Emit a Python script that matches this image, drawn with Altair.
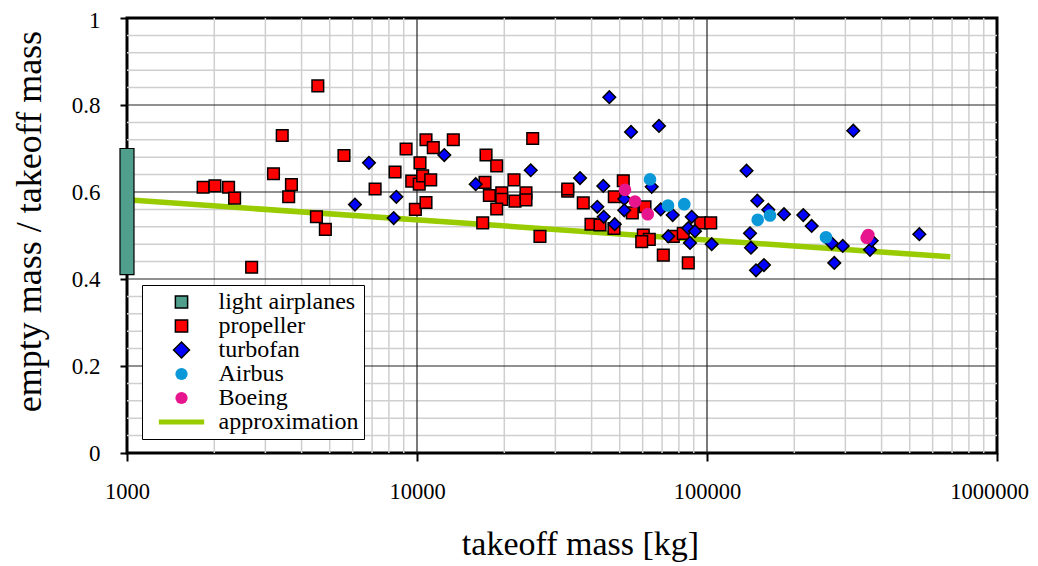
import altair as alt
import pandas as pd

FONT = "Liberation Serif"
AXIS_FONT = "Liberation Serif, Times New Roman, serif"

# ---- data ----
prop_mass = [1830, 2010, 2240, 2350, 2690, 3200, 3430, 3610, 3690, 4550, 4500, 4830,
             5600, 7170, 8400, 9170, 9590, 9870, 10180, 10240, 10460, 11150, 10740,
             10740, 11380, 13340, 17300, 18830, 17160, 17760, 21600, 19600, 19600,
             21770, 23760, 23760, 18830, 16850, 25060, 26550, 33100, 33100, 37440,
             39810, 42760, 47790, 51440, 47900, 55270, 61120, 60300, 63240, 59550,
             70680, 76520, 82830, 86180, 95130, 102990]
prop_ratio = [0.611, 0.614, 0.611, 0.586, 0.427, 0.642, 0.730, 0.589, 0.617, 0.844, 0.543,
              0.514, 0.684, 0.607, 0.646, 0.699, 0.625, 0.560, 0.618, 0.667, 0.637, 0.628,
              0.576, 0.720, 0.702, 0.720, 0.685, 0.660, 0.622, 0.592, 0.628, 0.598, 0.583,
              0.579, 0.598, 0.582, 0.561, 0.529, 0.723, 0.498, 0.602, 0.607, 0.575, 0.526,
              0.524, 0.516, 0.626, 0.589, 0.552, 0.566, 0.501, 0.491, 0.486, 0.455, 0.498,
              0.505, 0.437, 0.529, 0.529]

turbofan_mass = [6110, 6830, 8490, 8310, 12420, 15940, 24670, 46040, 54700, 68310, 36490,
                 43890, 41860, 44040, 48060, 51850, 51850, 64470, 69230, 76150, 88560,
                 86180, 90910, 73540, 87370, 103800, 136850, 149100, 162700, 184300,
                 214800, 229600, 140700, 141800, 147560, 157200, 269200, 293800, 274800,
                 364800, 369700, 319500, 539700]
turbofan_ratio = [0.571, 0.667, 0.589, 0.540, 0.685, 0.618, 0.650, 0.818, 0.738, 0.752,
                  0.632, 0.614, 0.566, 0.543, 0.526, 0.584, 0.558, 0.612, 0.560, 0.547,
                  0.543, 0.517, 0.510, 0.498, 0.483, 0.480, 0.649, 0.580, 0.559, 0.549,
                  0.547, 0.522, 0.505, 0.472, 0.420, 0.432, 0.482, 0.476, 0.437, 0.467,
                  0.488, 0.741, 0.503]

airbus_mass = [63600, 73360, 83490, 149550, 164900, 257200]
airbus_ratio = [0.629, 0.569, 0.572, 0.536, 0.546, 0.496]

boeing_mass = [52140, 56460, 62450, 355300, 359900]
boeing_ratio = [0.605, 0.578, 0.549, 0.495, 0.501]

light_mass = [1000]
light_low = [0.41]
light_high = [0.70]

approx_mass = [1000, 690000]
approx_ratio = [0.582, 0.451]

x_ticks = [1000, 10000, 100000, 1000000]
y_ticks = [0, 0.2, 0.4, 0.6, 0.8, 1.0]
major_x = [10000, 100000]
major_y = [0.2, 0.4, 0.6, 0.8]
minor_x = [2000, 3000, 4000, 5000, 6000, 7000, 8000, 9000,
           20000, 30000, 40000, 50000, 60000, 70000, 80000, 90000,
           200000, 300000, 400000, 500000, 600000, 700000, 800000, 900000]
minor_y = [0.04, 0.08, 0.12, 0.16, 0.24, 0.28, 0.32, 0.36, 0.44, 0.48, 0.52, 0.56,
           0.64, 0.68, 0.72, 0.76, 0.84, 0.88, 0.92, 0.96]

series = ["light airplanes", "propeller", "turbofan", "Airbus", "Boeing", "approximation"]
series_colors = ["#4f9f8c", "#ff0000", "#0000ff", "#0a98d8", "#e8168e", "#99cc00"]
series_shapes = ["square", "square", "M-1.3,0L0,-1.3L1.3,0L0,1.3Z", "circle", "circle",
                 "M-3.7,-0.4L3.7,-0.4L3.7,0.4L-3.7,0.4Z"]

# ---- tables ----
points = pd.concat([
    pd.DataFrame({"mass": prop_mass, "ratio": prop_ratio, "series": "propeller"}),
    pd.DataFrame({"mass": turbofan_mass, "ratio": turbofan_ratio, "series": "turbofan"}),
    pd.DataFrame({"mass": airbus_mass, "ratio": airbus_ratio, "series": "Airbus"}),
    pd.DataFrame({"mass": boeing_mass, "ratio": boeing_ratio, "series": "Boeing"}),
], ignore_index=True)
light = pd.DataFrame({"mass": light_mass, "low": light_low, "high": light_high})
approx = pd.DataFrame({"mass": approx_mass, "ratio": approx_ratio})

xscale = alt.Scale(type="log", domain=[1000, 1000000], nice=False, padding=0)
yscale = alt.Scale(domain=[0, 1], nice=False, padding=0)

x_axis = alt.Axis(values=x_ticks, format="d", title="takeoff mass [kg]", grid=False,
                  domain=False, ticks=True, tickSize=8, tickWidth=2, tickColor="black",
                  labelFont=AXIS_FONT, labelFontSize=22.5, labelColor="black",
                  labelPadding=37, labelBaseline="alphabetic", labelFlush=False,
                  labelOverlap=False,
                  labelOffset={"condition": {"test": "datum.value === 1000000", "value": -8},
                               "value": 0},
                  titleFont=AXIS_FONT, titleFontSize=34, titleFontWeight="normal",
                  titleColor="black", titleX=453, titleY=101, titleBaseline="alphabetic",
                  titleAlign="center")
y_axis = alt.Axis(values=y_ticks, format="~g", title="empty mass / takeoff mass",
                  grid=False, domain=False, ticks=True, tickSize=7, tickWidth=2,
                  tickColor="black", labelFont=AXIS_FONT, labelFontSize=23,
                  labelColor="black", labelPadding=20, labelFlush=False,
                  labelOverlap=False,
                  labelOffset={"condition": {"test": "datum.value === 1", "value": 2},
                               "value": 0},
                  titleFont=AXIS_FONT, titleFontSize=36, titleFontWeight="normal",
                  titleColor="black", titleX=-79, titleY=203, titleAngle=270,
                  titleBaseline="bottom", titleAlign="center")

minor_x_layer = alt.Chart(pd.DataFrame({"v": minor_x})).mark_rule(
    color="#cfcfcf", strokeWidth=1.5).encode(x=alt.X("v:Q", scale=xscale, axis=x_axis))
minor_y_layer = alt.Chart(pd.DataFrame({"v": minor_y})).mark_rule(
    color="#cfcfcf", strokeWidth=1.5).encode(y=alt.Y("v:Q", scale=yscale, axis=y_axis))
major_x_layer = alt.Chart(pd.DataFrame({"v": major_x})).mark_rule(
    color="#222222", strokeWidth=1.2).encode(x=alt.X("v:Q", scale=xscale, axis=x_axis))
major_y_layer = alt.Chart(pd.DataFrame({"v": major_y})).mark_rule(
    color="#222222", strokeWidth=1.2).encode(y=alt.Y("v:Q", scale=yscale, axis=y_axis))

approx_layer = alt.Chart(approx).mark_line(color="#99cc00", strokeWidth=5.5).encode(
    x=alt.X("mass:Q", scale=xscale, axis=x_axis),
    y=alt.Y("ratio:Q", scale=yscale, axis=y_axis),
)

light_layer = alt.Chart(light).mark_bar(width=14, color="#4f9f8c", stroke="black",
                                        strokeWidth=1.2).encode(
    x=alt.X("mass:Q", scale=xscale, axis=x_axis),
    y=alt.Y("low:Q", scale=yscale, axis=y_axis),
    y2="high:Q",
)

legend = alt.Legend(
    title=None, orient="none", legendX=15, legendY=267, direction="vertical",
    labelFont=FONT, labelFontSize=24, labelColor="black",
    symbolSize=150, symbolStrokeWidth=1.5, symbolOffset=22.5, labelOffset=25,
    padding=5, rowPadding=0, fillColor="white", strokeColor="black",
    symbolStrokeColor=alt.ExprRef(
        "datum.value === 'Airbus' || datum.value === 'Boeing' || "
        "datum.value === 'approximation' ? 'transparent' : 'black'"),
)

circle_pred = alt.FieldOneOfPredicate(field="series", oneOf=["Airbus", "Boeing"])

points_layer = alt.Chart(points).mark_point(filled=True, opacity=1, strokeWidth=1.5).encode(
    x=alt.X("mass:Q", scale=xscale, axis=x_axis),
    y=alt.Y("ratio:Q", scale=yscale, axis=y_axis),
    color=alt.Color("series:N", scale=alt.Scale(domain=series, range=series_colors),
                    legend=legend),
    shape=alt.Shape("series:N", scale=alt.Scale(domain=series, range=series_shapes),
                    legend=legend),
    size=alt.when(circle_pred).then(alt.value(160))
            .when(alt.datum.series == "turbofan").then(alt.value(94))
            .otherwise(alt.value(135)),
    stroke=alt.when(circle_pred).then(alt.value("transparent")).otherwise(alt.value("black")),
)

chart = alt.layer(
    minor_x_layer, minor_y_layer, major_x_layer, major_y_layer,
    approx_layer, light_layer, points_layer,
).properties(
    width=870, height=435,
    background="white",
    autosize=alt.AutoSizeParams(type="none"),
    padding={"left": 119, "top": 10, "right": 33, "bottom": 111},
).configure(
    font=AXIS_FONT,
    style={"guide-label": {"font": AXIS_FONT}, "guide-title": {"font": AXIS_FONT}},
).configure_axis(
    labelFont=AXIS_FONT, titleFont=AXIS_FONT
).configure_legend(
    labelFont=FONT
).configure_view(
    stroke="black", strokeWidth=3
)

chart.save("out.html", embed_options={"renderer": "svg", "actions": False})
